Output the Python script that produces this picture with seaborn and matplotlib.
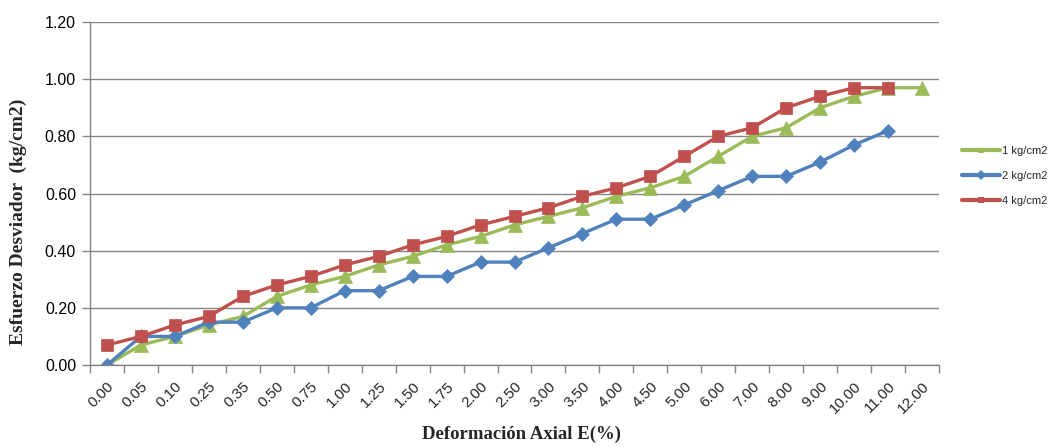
import numpy as np
import pandas as pd
import matplotlib
matplotlib.use("Agg")
import matplotlib.pyplot as plt
import seaborn as sns
from matplotlib.ticker import FixedLocator

# Axial strain categories (%)
deformacion = ["0.00", "0.05", "0.10", "0.25", "0.35", "0.50", "0.75", "1.00",
               "1.25", "1.50", "1.75", "2.00", "2.50", "3.00", "3.50", "4.00",
               "4.50", "5.00", "6.00", "7.00", "8.00", "9.00", "10.00", "11.00",
               "12.00"]

# Deviator stress (kg/cm2) for each confining pressure
esfuerzo_1 = [0.00, 0.07, 0.10, 0.14, 0.17, 0.24, 0.28, 0.31, 0.35, 0.38, 0.42,
              0.45, 0.49, 0.52, 0.55, 0.59, 0.62, 0.66, 0.73, 0.80, 0.83, 0.90,
              0.94, 0.97, 0.97]
esfuerzo_2 = [0.00, 0.10, 0.10, 0.15, 0.15, 0.20, 0.20, 0.26, 0.26, 0.31, 0.31,
              0.36, 0.36, 0.41, 0.46, 0.51, 0.51, 0.56, 0.61, 0.66, 0.66, 0.71,
              0.77, 0.82]
esfuerzo_4 = [0.07, 0.10, 0.14, 0.17, 0.24, 0.28, 0.31, 0.35, 0.38, 0.42, 0.45,
              0.49, 0.52, 0.55, 0.59, 0.62, 0.66, 0.73, 0.80, 0.83, 0.90, 0.94,
              0.97, 0.97]

series_names = ["1 kg/cm2", "2 kg/cm2", "4 kg/cm2"]
series_values = [esfuerzo_1, esfuerzo_2, esfuerzo_4]
colors = {"1 kg/cm2": "#9BBB59", "2 kg/cm2": "#4F81BD", "4 kg/cm2": "#C0504D"}
markers = {"1 kg/cm2": "^", "2 kg/cm2": "D", "4 kg/cm2": "s"}
marker_sizes = {"1 kg/cm2": 9.5, "2 kg/cm2": 7.0, "4 kg/cm2": 8.5}

rows = []
for name, vals in zip(series_names, series_values):
    for cat, v in zip(deformacion, vals):
        rows.append({"Deformacion": cat, "Esfuerzo": v, "Presion": name})
df = pd.DataFrame(rows)

sns.set_style("white")
plt.rcParams["font.family"] = ["Liberation Sans", "DejaVu Sans"]

fig = plt.figure(figsize=(10.5, 4.47), dpi=100)
ax = fig.add_axes([0.0857, 0.1834, 0.8086, 0.7674])

sns.lineplot(data=df, x="Deformacion", y="Esfuerzo", hue="Presion",
             style="Presion", hue_order=series_names, style_order=series_names,
             palette=colors, markers=markers, dashes=False, sort=False,
             linewidth=2.4, ax=ax, legend=True)

# solid markers, no white edges
for line, name in zip(ax.get_lines()[:3], series_names):
    line.set_markeredgecolor(colors[name])
    line.set_markerfacecolor(colors[name])
    line.set_markersize(marker_sizes[name])
    line.set_markeredgewidth(0.5)

ax.set_xlim(-0.5, len(deformacion) - 0.5)
ax.set_ylim(0, 1.2)
yt = np.arange(0, 1.21, 0.2)
ax.set_yticks(yt)
ax.set_yticklabels([f"{t:.2f}" for t in yt], fontsize=11.5)
ax.set_xticks(range(len(deformacion)))
ax.set_xticklabels(deformacion, rotation=45, ha="right", va="top",
                   rotation_mode="anchor", fontsize=11)
ax.tick_params(axis="x", which="major", length=0, pad=10)
ax.xaxis.set_minor_locator(FixedLocator(np.arange(-0.5, len(deformacion), 1.0)))
ax.tick_params(axis="x", which="minor", length=6, width=1, color="#868686",
               direction="out", bottom=True)
ax.tick_params(axis="y", length=6, width=1, color="#868686", direction="out",
               left=True, pad=4, labelcolor="black")

ax.grid(True, axis="y", color="#868686", linewidth=1)
ax.grid(False, axis="x")
ax.set_axisbelow(True)
for side in ["top", "right"]:
    ax.spines[side].set_visible(False)
for side in ["left", "bottom"]:
    ax.spines[side].set_color("#868686")
    ax.spines[side].set_linewidth(1)

serif = ["Liberation Serif", "DejaVu Serif"]
ax.set_xlabel("Deformación Axial E(%)", fontsize=13.5, fontweight="bold",
              family=serif)
ax.set_ylabel("Esfuerzo Desviador  (kg/cm2)", fontsize=14, fontweight="bold",
              family=serif)
ax.xaxis.set_label_coords(0.508, -0.178)
ax.yaxis.set_label_coords(-0.074, 0.417)

handles, labels = ax.get_legend_handles_labels()
for h in handles:
    h.set_markersize(5)
    h.set_linewidth(3)
    h.set_markeredgewidth(0)
ax.legend(handles, labels, loc="center left", bbox_to_anchor=(0.907, 0.606),
          bbox_transform=fig.transFigure, frameon=False, fontsize=8,
          handlelength=3.4, handletextpad=0.2, labelspacing=1.35)

fig.savefig("out.png", dpi=100)
